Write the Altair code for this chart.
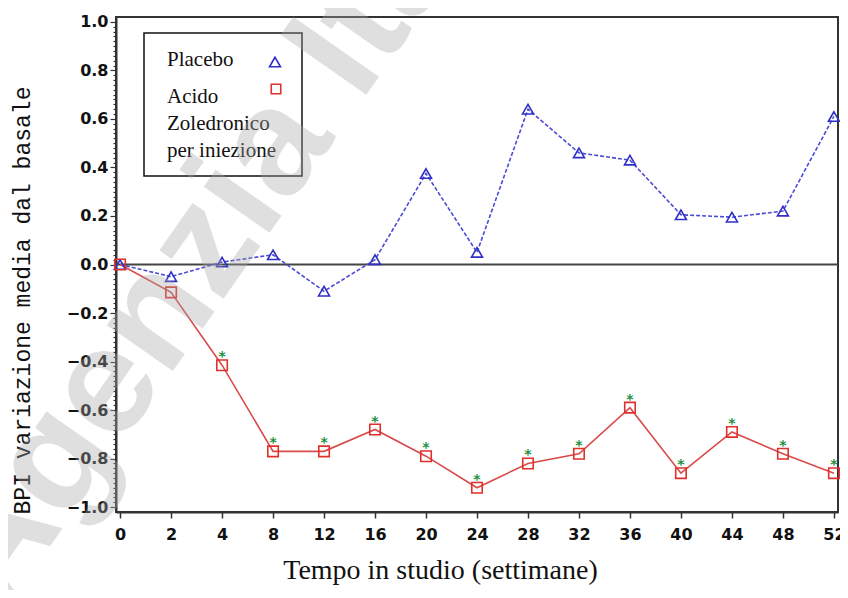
import altair as alt
import pandas as pd

# ---- data ----
weeks = ["0", "2", "4", "8", "12", "16", "20", "24", "28", "32", "36", "40", "44", "48", "52"]
placebo = [0.00, -0.05, 0.01, 0.04, -0.11, 0.02, 0.375, 0.05, 0.64, 0.46, 0.43, 0.205, 0.195, 0.22, 0.61]
zoledronic = [0.00, -0.115, -0.415, -0.77, -0.77, -0.68, -0.79, -0.92, -0.82, -0.78, -0.59, -0.86, -0.69, -0.78, -0.86]
significant = [False, False, True, True, True, True, True, True, True, True, True, True, True, True, True]
legend_labels = ["Placebo", "Acido", "Zoledronico", "per iniezione"]
y_ticks = [round(-1.0 + 0.02 * i, 2) for i in range(101)]
watermark = "Agenzia Italiana del Farmaco"

x_title = "Tempo in studio (settimane)"
y_title = "BPI variazione media dal basale"

df_p = pd.DataFrame({"week": weeks, "value": placebo})
df_z = pd.DataFrame({"week": weeks, "value": zoledronic, "sig": significant})

BLUE_LINE = "#4b4bd6"
BLUE_MARK = "#2f2fc8"
RED_LINE = "#d94a4a"
RED_MARK = "#e0302c"
GREEN = "#1f8f3f"
SERIF = "Liberation Serif"

major_test = "abs(datum.value*5 - round(datum.value*5)) < 0.001"

x_enc = alt.X(
    "week:O",
    sort=weeks,
    scale=alt.Scale(type="point", padding=0.08),
    axis=alt.Axis(
        title=x_title,
        labelAngle=0,
        labelFont="DejaVu Sans",
        labelFontWeight="bold",
        labelFontSize=16,
        labelColor="#111",
        labelPadding=8,
        tickSize=6,
        tickWidth=1.5,
        tickColor="#333",
        domainColor="#333",
        domainWidth=2,
        titleFont=SERIF,
        titleFontWeight="normal",
        titleFontSize=28,
        titleColor="#111",
        titleX=324,
        titleY=66,
        titleAlign="center",
        titleBaseline="alphabetic",
        grid=False,
    ),
)

y_scale = alt.Scale(domain=[-1.02, 1.02], nice=False, zero=False)

y_axis = alt.Axis(
    values=y_ticks,
    labelExpr=f"{major_test} ? format(datum.value, '.1f') : ''",
    labelOverlap=False,
    labelFont="DejaVu Sans",
    labelFontWeight="bold",
    labelFontSize=16,
    labelColor="#111",
    labelPadding=2,
    tickSize={"condition": {"test": major_test, "value": 6}, "value": 3},
    tickWidth=1.2,
    tickColor="#333",
    domainColor="#333",
    domainWidth=2,
    grid=False,
    title=y_title,
    titleFont="Liberation Mono",
    titleFontWeight="normal",
    titleFontSize=23,
    titleColor="#111",
    titleAngle=270,
    titleX=-94,
    titleY=283,
    titleAlign="center",
    titleBaseline="middle",
)

y_enc = alt.Y("value:Q", scale=y_scale, axis=y_axis)

zero = alt.Chart(pd.DataFrame({"value": [0.0]})).mark_rule(color="#444", strokeWidth=2).encode(y=y_enc)

p_line = alt.Chart(df_p).mark_line(color=BLUE_LINE, strokeWidth=1.6, strokeDash=[4, 2]).encode(x=x_enc, y=y_enc)
p_pts = alt.Chart(df_p).mark_point(
    shape="triangle-up", filled=False, color=BLUE_MARK, size=120, strokeWidth=1.6, opacity=1
).encode(x=x_enc, y=y_enc)

z_line = alt.Chart(df_z).mark_line(color=RED_LINE, strokeWidth=1.6).encode(x=x_enc, y=y_enc)
z_pts = alt.Chart(df_z).mark_point(
    shape="square", filled=False, color=RED_MARK, size=110, strokeWidth=1.6, opacity=1
).encode(x=x_enc, y=y_enc)

stars = alt.Chart(df_z).transform_filter("datum.sig").mark_text(
    text="*", font="DejaVu Sans", color=GREEN, fontSize=14, fontWeight="bold", baseline="middle", dy=-8
).encode(x=x_enc, y=y_enc)

# ---- legend drawn as a boxed annotation ----
legend_box = alt.Chart(pd.DataFrame({"a": [0]})).mark_rect(
    fill="white", stroke="#111", strokeWidth=1.5
).encode(x=alt.value(28), x2=alt.value(186), y=alt.value(16), y2=alt.value(159))

legend_rows = [49, 86, 113, 140]
legend_texts = [
    alt.Chart(pd.DataFrame({"t": [lab]})).mark_text(
        font=SERIF, fontSize=21, color="#111", align="left", baseline="alphabetic"
    ).encode(text=alt.Text("t:N"), x=alt.value(51), y=alt.value(yy))
    for lab, yy in zip(legend_labels, legend_rows)
]
leg_tri = alt.Chart(pd.DataFrame({"a": [0]})).mark_point(
    shape="triangle-up", filled=False, color=BLUE_MARK, size=120, strokeWidth=1.6, opacity=1
).encode(x=alt.value(159), y=alt.value(45))
leg_sq = alt.Chart(pd.DataFrame({"a": [0]})).mark_point(
    shape="square", filled=False, color=RED_MARK, size=90, strokeWidth=1.6, opacity=1
).encode(x=alt.value(160), y=alt.value(72))

wm = alt.Chart(pd.DataFrame({"t": [watermark]})).mark_text(
    font="Liberation Sans", fontSize=152, fontWeight="bold", color="#a8a8a8", opacity=0.36,
    align="left", baseline="alphabetic", angle=305
).encode(text="t:N", x=alt.value(-114), y=alt.value(598))

chart = alt.layer(
    zero, p_line, z_line, p_pts, z_pts, stars, legend_box, *legend_texts, leg_tri, leg_sq, wm
).properties(
    width=722,
    height=495,
    padding={"left": 108, "top": 9, "right": 2, "bottom": 78},
    autosize=alt.AutoSizeParams(type="none"),
    background="white",
).configure_view(
    stroke="#333", strokeWidth=2
)

chart.save("out.html", embed_options={"renderer": "svg", "actions": False})
